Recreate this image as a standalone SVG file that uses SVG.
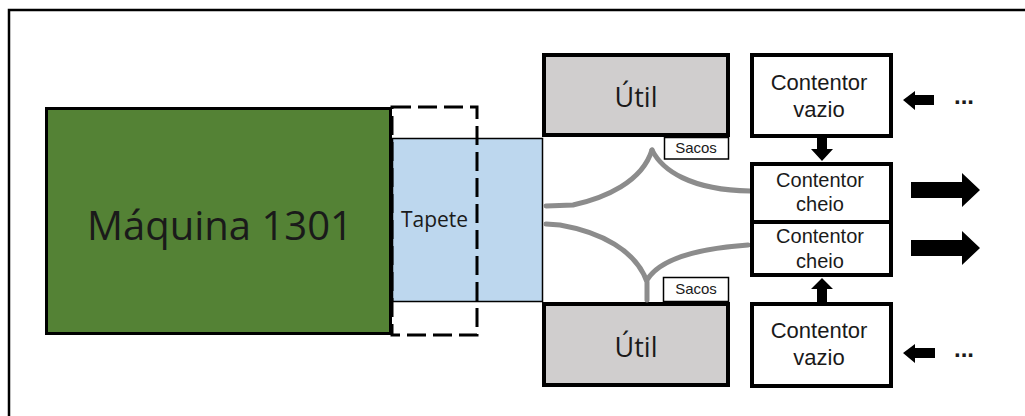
<svg xmlns="http://www.w3.org/2000/svg" width="1025" height="416" viewBox="0 0 1025 416">
  <style>
    .box { stroke: #000; stroke-width: 4; }
    .util { fill: #d0cece; }
    .cont { fill: #fff; }
    .tag { fill: #fff; stroke: #000; stroke-width: 1.5; }
    .flow { fill: none; stroke: #8c8c8c; stroke-width: 5; stroke-linecap: round; stroke-linejoin: round; }
    .arrow { fill: #000; }
    .lbl { font-family: "Liberation Sans", Arial, sans-serif; fill: #1a1a1a; text-anchor: middle; }
    .hum { font-family: "Open Sans", "Noto Sans", sans-serif; fill: #1a1a1a; text-anchor: middle; }
  </style>

  <rect width="1025" height="416" fill="#fff"/>

  <!-- outer frame: only top and left edges are visible -->
  <path d="M9,416 V10 H1025" fill="none" stroke="#000" stroke-width="2.5"/>

  <g id="maquina">
    <rect x="46.5" y="108.5" width="344" height="225" fill="#548235" stroke="#000" stroke-width="3"/>
    <text class="hum" x="220" y="240" font-size="40">Máquina 1301</text>
  </g>

  <g id="tapete">
    <rect x="392.5" y="138.5" width="150" height="163" fill="#bdd7ee" stroke="#000" stroke-width="1.5"/>
    <rect x="392" y="107" width="85" height="228" fill="none" stroke="#000" stroke-width="3" stroke-dasharray="19 7"/>
    <text class="hum" x="434.5" y="227" font-size="21">Tapete</text>
  </g>

  <g id="util-topo">
    <rect class="box util" x="544" y="55" width="184" height="80"/>
    <text class="hum" x="636" y="107" font-size="27">Útil</text>
  </g>

  <g id="util-base">
    <rect class="box util" x="544" y="304" width="184" height="81"/>
    <text class="hum" x="636" y="357" font-size="27">Útil</text>
  </g>

  <g id="sacos-topo">
    <rect class="tag" x="664.5" y="137.5" width="64" height="21.5"/>
    <text class="lbl" x="696" y="153" font-size="15">Sacos</text>
  </g>

  <g id="sacos-base">
    <rect class="tag" x="663.5" y="277.5" width="65" height="24"/>
    <text class="lbl" x="696" y="294" font-size="15">Sacos</text>
  </g>

  <!-- connectors: bag flows and container arrows -->
  <g id="connectors">
    <path class="flow" d="M546,206 L573,205 C605,198 642,182 652,150"/>
    <path class="flow" d="M652,150 C662,170 690,190 750,191"/>
    <path class="flow" d="M546,224 L560,225 C600,232 636,250 647,282 L647,300"/>
    <path class="flow" d="M647,280 C658,262 690,249 748,245"/>

    <!-- empty containers moving into place -->
    <polygon class="arrow" points="817,137 827,137 827,149 833,149 822,161 811,149 817,149"/>
    <polygon class="arrow" points="822,278 833,289 827,289 827,303 817,303 817,289 811,289"/>

    <!-- incoming empty containers -->
    <polygon class="arrow" points="903,100 915,91 915,95 934,95 934,105 915,105 915,110"/>
    <polygon class="arrow" points="903,353 915,344 915,348 935,348 935,358 915,358 915,363"/>

    <!-- outgoing full containers -->
    <polygon class="arrow" points="911,182 962,182 962,173 980,190 962,207 962,198 911,198"/>
    <polygon class="arrow" points="911,240 962,240 962,231 980,248 962,265 962,256 911,256"/>

    <text class="lbl" x="964" y="104" font-size="24" font-weight="bold">...</text>
    <text class="lbl" x="964" y="357" font-size="24" font-weight="bold">...</text>
  </g>

  <g id="contentor-vazio-topo">
    <rect class="box cont" x="752" y="55" width="139" height="81"/>
    <text class="lbl" x="819" y="90" font-size="22">Contentor</text>
    <text class="lbl" x="819" y="117" font-size="22">vazio</text>
  </g>

  <g id="contentor-cheio-1">
    <rect class="box cont" x="752" y="164" width="139" height="58"/>
    <text class="lbl" x="820" y="187" font-size="20">Contentor</text>
    <text class="lbl" x="820" y="211" font-size="20">cheio</text>
  </g>

  <g id="contentor-cheio-2">
    <rect class="box cont" x="752" y="222" width="139" height="53"/>
    <text class="lbl" x="820" y="243" font-size="20">Contentor</text>
    <text class="lbl" x="820" y="268" font-size="20">cheio</text>
  </g>

  <g id="contentor-vazio-base">
    <rect class="box cont" x="752" y="304" width="139" height="82"/>
    <text class="lbl" x="819" y="338" font-size="22">Contentor</text>
    <text class="lbl" x="819" y="365" font-size="22">vazio</text>
  </g>
</svg>
